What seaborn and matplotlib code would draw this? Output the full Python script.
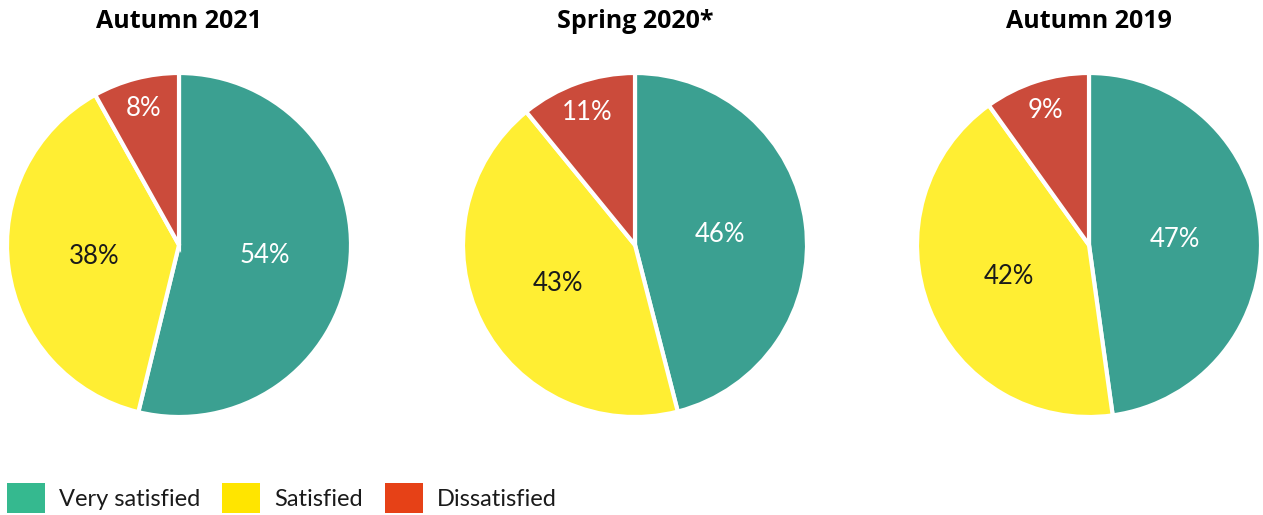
import numpy as np
import matplotlib
matplotlib.use("Agg")
import matplotlib.pyplot as plt
from matplotlib.patches import Patch
import seaborn as sns

sns.set_theme(style="white")
plt.rcParams['font.family'] = ['Lato', 'DejaVu Sans']

titles = ["Autumn 2021", "Spring 2020*", "Autumn 2019"]
categories = ["Very satisfied", "Satisfied", "Dissatisfied"]
# printed percentages
very_satisfied = [54, 46, 47]
satisfied = [38, 43, 42]
dissatisfied = [8, 11, 9]
# wedge shares as drawn (unrounded estimates)
very_satisfied_share = [53.8, 46.0, 47.8]
satisfied_share = [38.1, 43.1, 42.3]
dissatisfied_share = [8.1, 10.9, 9.9]

pie_colors = ["#3ba091", "#ffee33", "#cb4b3b"]
legend_colors = ["#35b98f", "#ffe500", "#e64117"]
label_colors = ["white", "#1a1a1a", "white"]

W, H = 1263, 515
fig = plt.figure(figsize=(W / 100, H / 100), dpi=100)

centers_x = [179, 635, 1089]
cy = 245
r = 172

for i, t in enumerate(titles):
    shares = [very_satisfied_share[i], satisfied_share[i], dissatisfied_share[i]]
    labels = [very_satisfied[i], satisfied[i], dissatisfied[i]]
    ax = fig.add_axes([(centers_x[i] - r) / W, 1 - (cy + r) / H, 2 * r / W, 2 * r / H])
    wedges, texts = ax.pie(
        shares, colors=pie_colors, startangle=90, counterclock=False,
        wedgeprops=dict(edgecolor="white", linewidth=3),
    )
    total = sum(shares)
    for w, s, v, lc in zip(wedges, shares, labels, label_colors):
        ang = np.deg2rad((w.theta1 + w.theta2) / 2)
        d = 0.82 if s / total < 0.15 else 0.5
        ax.text(d * np.cos(ang), d * np.sin(ang), f"{v}%", color=lc,
                fontsize=18.5, fontweight="normal", ha="center", va="center")
    ax.set_xlim(-1.0, 1.0)
    ax.set_ylim(-1.0, 1.0)
    fig.text(centers_x[i] / W, 1 - 22 / H, t, ha="center", va="center",
             fontsize=18, fontweight="bold", color="black",
             family=['Open Sans', 'DejaVu Sans'])

handles = [Patch(facecolor=c, edgecolor="none", label=l) for c, l in zip(legend_colors, categories)]
fig.legend(handles=handles, loc="lower left", bbox_to_anchor=(7 / W, 2 / H), ncol=3,
           frameon=False, fontsize=17, handlelength=1.61, handleheight=1.57,
           handletextpad=0.6, columnspacing=0.93, borderpad=0, borderaxespad=0,
           labelcolor="#1a1a1a")

fig.savefig("out.png", dpi=100)
